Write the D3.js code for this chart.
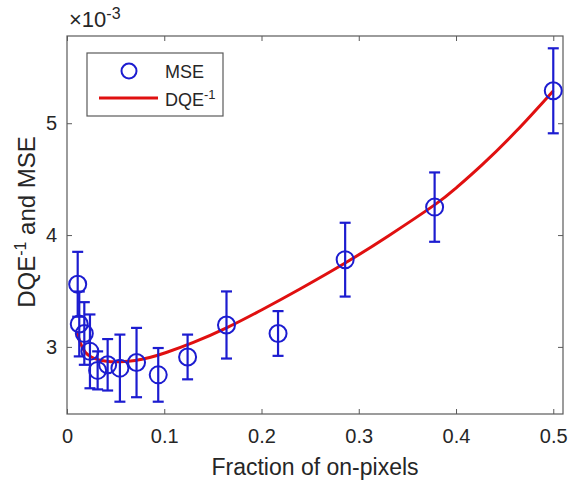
<!DOCTYPE html>
<html>
<head>
<meta charset="utf-8">
<script src="https://d3js.org/d3.v7.min.js"></script>
<style>
  body { margin: 0; background: #fff; }
  svg text { font-family: "Liberation Sans", Arial, sans-serif; fill: #262626; }
</style>
</head>
<body>
<svg id="chart" width="570" height="483"></svg>
<script>
// MSE measurements (y in units of 1e-3)
const mseX   = [0.011, 0.0126, 0.0178, 0.0236, 0.0315, 0.0418, 0.0544, 0.0715, 0.0938, 0.124, 0.164, 0.217, 0.286, 0.378, 0.5];
const mseY   = [3.56, 3.205, 3.12, 2.96, 2.79, 2.84, 2.81, 2.86, 2.75, 2.91, 3.196, 3.12, 3.78, 4.25, 5.29];
const mseErr = [0.29, 0.29, 0.28, 0.33, 0.17, 0.23, 0.30, 0.31, 0.24, 0.20, 0.30, 0.20, 0.33, 0.31, 0.38];

// DQE^-1 curve
const dqeX = [0.010, 0.014, 0.019, 0.025, 0.034, 0.045, 0.055, 0.07, 0.085, 0.102, 0.13, 0.164, 0.2, 0.24, 0.286, 0.33, 0.378, 0.40, 0.427, 0.462, 0.5];
const dqeY = [3.14, 3.03, 2.95, 2.91, 2.88, 2.868, 2.868, 2.878, 2.905, 2.95, 3.04, 3.17, 3.33, 3.52, 3.75, 3.99, 4.27, 4.42, 4.63, 4.93, 5.29];

const xTicks = [0, 0.1, 0.2, 0.3, 0.4, 0.5];
const yTicks = [3, 4, 5];

var svg = d3.select("#chart");
var pLeft = 67, pRight = 563, pTop = 36, pBottom = 414;

var x = d3.scaleLinear().domain([0, 0.51]).range([pLeft, pRight]);
var y = d3.scaleLinear().domain([2.4, 5.78]).range([pBottom, pTop]);

var axisColor = "#5a5a5a";

// ticks (inward, all four sides)
function styleAxis(g) {
  g.select(".domain").remove();
  g.selectAll(".tick line").attr("stroke", axisColor);
  g.selectAll(".tick text").style("font-size", "20px").attr("fill", "#262626");
}
svg.append("g").attr("transform", "translate(0," + pBottom + ")")
  .call(d3.axisBottom(x).tickValues(xTicks).tickSize(-5).tickPadding(15).tickFormat(d3.format("~g")))
  .call(styleAxis);
svg.append("g").attr("transform", "translate(0," + pTop + ")")
  .call(d3.axisTop(x).tickValues(xTicks).tickSize(-5).tickFormat(""))
  .call(styleAxis);
svg.append("g").attr("transform", "translate(" + pLeft + ",0)")
  .call(d3.axisLeft(y).tickValues(yTicks).tickSize(-5).tickPadding(10).tickFormat(d3.format("d")))
  .call(styleAxis);
svg.append("g").attr("transform", "translate(" + pRight + ",0)")
  .call(d3.axisRight(y).tickValues(yTicks).tickSize(-5).tickFormat(""))
  .call(styleAxis);

// box
svg.append("rect")
  .attr("x", pLeft).attr("y", pTop)
  .attr("width", pRight - pLeft).attr("height", pBottom - pTop)
  .attr("fill", "none").attr("stroke", axisColor).attr("stroke-width", 1.2);

var blue = "#1c1cd0", red = "#e01010";

// red curve
var curveData = dqeX.map(function(d, i) { return [d, dqeY[i]]; });
svg.append("path")
  .datum(curveData)
  .attr("fill", "none")
  .attr("stroke", red)
  .attr("stroke-width", 3)
  .attr("d", d3.line().x(function(d) { return x(d[0]); }).y(function(d) { return y(d[1]); }).curve(d3.curveNatural));

// error bars and circles
var pts = mseX.map(function(d, i) { return { x: d, y: mseY[i], e: mseErr[i] }; });
var eb = svg.append("g").attr("stroke", blue).attr("stroke-width", 2.2).attr("fill", "none");
var capW = 5.5;
pts.forEach(function(p) {
  var cx = x(p.x), yt = y(p.y + p.e), yb = y(p.y - p.e);
  eb.append("line").attr("x1", cx).attr("x2", cx).attr("y1", yt).attr("y2", yb);
  eb.append("line").attr("x1", cx - capW).attr("x2", cx + capW).attr("y1", yt).attr("y2", yt);
  eb.append("line").attr("x1", cx - capW).attr("x2", cx + capW).attr("y1", yb).attr("y2", yb);
});
svg.append("g").selectAll("circle")
  .data(pts).enter().append("circle")
  .attr("cx", function(d) { return x(d.x); })
  .attr("cy", function(d) { return y(d.y); })
  .attr("r", 8.5)
  .attr("fill", "none")
  .attr("stroke", blue)
  .attr("stroke-width", 2);

// exponent label
var ex = svg.append("text").attr("x", 69).attr("y", 27).style("font-size", "22px");
ex.append("tspan").text("\u00d710");
ex.append("tspan").attr("dy", -8).style("font-size", "16px").text("-3");

// axis labels
svg.append("text")
  .attr("x", (pLeft + pRight) / 2).attr("y", 475)
  .attr("text-anchor", "middle")
  .style("font-size", "23px")
  .text("Fraction of on-pixels");

var yl = svg.append("text")
  .attr("transform", "translate(35,222) rotate(-90)")
  .attr("text-anchor", "middle")
  .style("font-size", "24px");
yl.append("tspan").text("DQE");
yl.append("tspan").attr("dy", -9).style("font-size", "16px").text("-1");
yl.append("tspan").attr("dy", 9).text(" and MSE");

// legend
var lg = svg.append("g");
lg.append("rect").attr("x", 87).attr("y", 53).attr("width", 136).attr("height", 63)
  .attr("fill", "#fff").attr("stroke", axisColor).attr("stroke-width", 1.2);
lg.append("circle").attr("cx", 129).attr("cy", 71).attr("r", 7.5)
  .attr("fill", "none").attr("stroke", blue).attr("stroke-width", 2);
lg.append("text").attr("x", 165).attr("y", 78).style("font-size", "18px").text("MSE");
lg.append("line").attr("x1", 99).attr("x2", 158).attr("y1", 98).attr("y2", 98)
  .attr("stroke", red).attr("stroke-width", 3);
var lt = lg.append("text").attr("x", 165).attr("y", 106).style("font-size", "18px");
lt.append("tspan").text("DQE");
lt.append("tspan").attr("dy", -7).style("font-size", "13px").text("-1");
</script>
</body>
</html>
